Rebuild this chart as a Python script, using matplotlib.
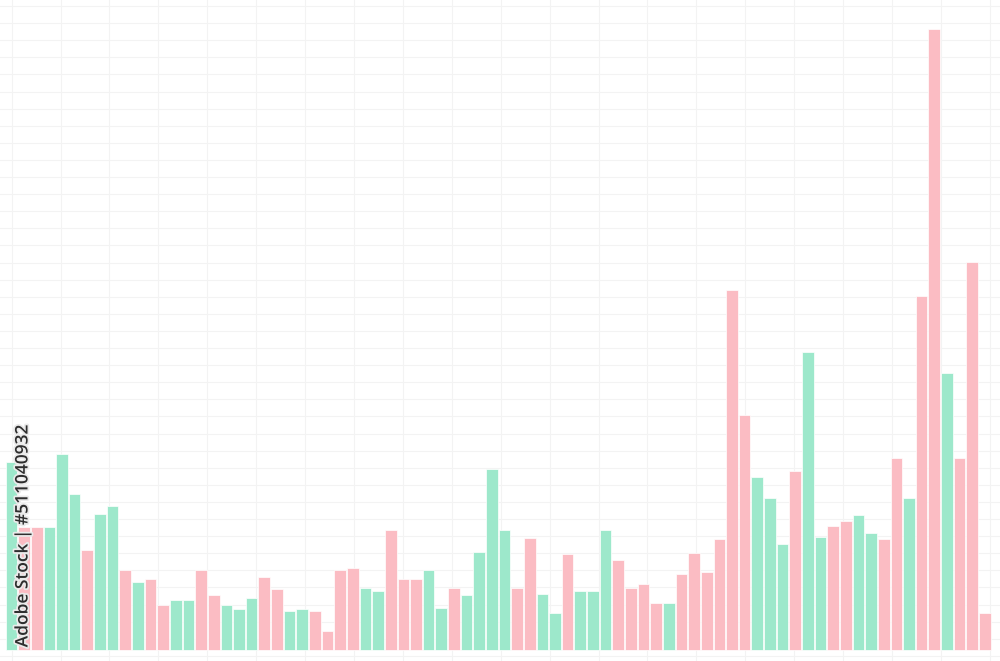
import numpy as np
import matplotlib.pyplot as plt
import matplotlib.patheffects as pe

# bar heights (baseline = 0)
heights = [188, 123, 123, 123, 196, 156, 100, 136, 144, 80,
           68, 71, 45, 50, 50, 80, 55, 45, 41, 52,
           73, 61, 39, 41, 39, 19, 80, 82, 62, 59,
           120, 71, 71, 80, 42, 62, 55, 98, 181, 120,
           62, 112, 56, 37, 96, 59, 59, 120, 90, 62,
           66, 47, 47, 76, 97, 78, 111, 360, 235, 173,
           152, 106, 179, 298, 113, 124, 129, 135, 117, 111,
           192, 152, 354, 621, 277, 192, 388, 37]

# G = up (green), P = down (pink)
direction = ("GPPGGGPGGP" "GPPGGPPGGG" "PPGGPPPPGG" "PPPGGPGGGG"
             "PPGGPGGGPP" "PPGPPPPPPG" "GGPGGPPGGP" "PGPPGPPP")

watermark = "Adobe Stock | #511040932"

green = "#9de8cb"
pink = "#fbbcc3"
colors = [green if d == "G" else pink for d in direction]

fig = plt.figure(figsize=(10, 6.61), dpi=100)

# background grid layer (pixel coordinates)
bg = fig.add_axes([0, 0, 1, 1])
bg.set_xlim(0, 1000)
bg.set_ylim(661, 0)
bg.set_xticks(np.arange(11.7, 1000, 48.9))
bg.set_yticks(np.arange(6, 661, 17.1))
bg.grid(True, color="#f3f3f3", linewidth=0.8)
bg.tick_params(length=0, labelbottom=False, labelleft=False)
for s in bg.spines.values():
    s.set_visible(False)

# bars
ax = fig.add_axes([0, 0, 1, 1])
ax.patch.set_alpha(0)
x = np.arange(len(heights))
ax.bar(x, heights, width=0.92, color=colors, edgecolor="white", linewidth=0.5)
ax.set_xlim(-0.906, 78.2)
ax.set_ylim(-11, 650)
ax.axis("off")

fig.text(0.0235, (661 - 536) / 661, watermark, rotation=90, ha="center", va="center",
         fontsize=12.5, family="Open Sans", weight="semibold", color="#2e2e2e",
         path_effects=[pe.withStroke(linewidth=2.5, foreground="#eaeaea")])

fig.savefig("out.png", dpi=100)
